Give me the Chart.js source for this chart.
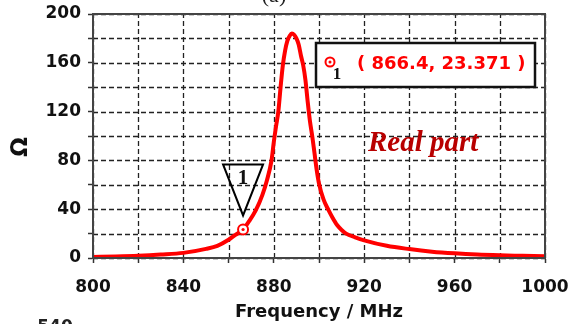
<!DOCTYPE html>
<html>
<head>
<meta charset="utf-8">
<script src="https://cdn.jsdelivr.net/npm/chart.js@4.4.1/dist/chart.umd.min.js"></script>
<style>
  html, body { margin: 0; padding: 0; background: #fff; }
  #wrap { width: 573px; height: 324px; position: relative; }
</style>
</head>
<body>
<div id="wrap"><canvas id="chart"></canvas></div>
<script>
// frequency (MHz) and real part of the impedance (ohm)
const freqMHz = [800, 810, 820, 830, 840, 850, 855, 860, 863, 866.4, 869, 872, 875, 877, 879, 880, 881, 882, 883, 884,
  885, 886, 887, 888, 889, 890, 891, 892, 893, 894, 895, 896, 897, 898, 899, 900, 902, 904, 906, 908,
  910, 912, 916, 920, 930, 940, 950, 960, 970, 980, 990, 1000];
const realOhm = [0.8, 1.2, 1.8, 2.8, 4.2, 7.5, 10, 15, 19, 23.4, 30, 39, 52, 64, 80, 95, 108, 120, 140, 158,
  170, 178, 182, 184, 183, 180, 175, 166, 158, 146, 128, 112, 100, 86, 72, 61, 48, 40, 33, 27,
  23, 20, 17, 14.5, 10, 7.3, 5.2, 3.8, 2.8, 2.2, 1.8, 1.4];

// marker 1
const markerFreq = 866.4;
const markerValue = 23.371;
const markerLabel = "( 866.4, 23.371 )";

const xRange = [800, 1000];
const yRange = [0, 200];
const gridStep = 20;
const labelStep = 40;

const curve = freqMHz.map((f, i) => ({ x: f, y: realOhm[i] }));

// dashed grid drawn from the scales' own ticks
const dashedGrid = {
  id: "dashedGrid",
  beforeDatasetsDraw(chart) {
    const { ctx, chartArea: a, scales } = chart;
    ctx.save();
    ctx.strokeStyle = "#222";
    ctx.lineWidth = 1.3;
    ctx.setLineDash([5, 3]);
    scales.x.ticks.forEach((t) => {
      const x = Math.round(scales.x.getPixelForValue(t.value)) + 0.5;
      ctx.beginPath();
      ctx.moveTo(x, a.bottom);
      ctx.lineTo(x, a.top);
      ctx.stroke();
    });
    scales.y.ticks.forEach((t) => {
      const y = Math.round(scales.y.getPixelForValue(t.value)) + 0.5;
      ctx.beginPath();
      ctx.moveTo(a.left, y);
      ctx.lineTo(a.right, y);
      ctx.stroke();
    });
    ctx.restore();
  }
};

const decor = {
  id: "decor",
  afterDraw(chart) {
    const { ctx, chartArea: a, scales } = chart;
    ctx.save();
    // frame round the plot
    ctx.strokeStyle = "#444";
    ctx.lineWidth = 2;
    ctx.setLineDash([]);
    ctx.strokeRect(a.left, a.top, a.right - a.left, a.bottom - a.top);

    // marker on the curve
    const px = scales.x.getPixelForValue(markerFreq);
    const py = scales.y.getPixelForValue(markerValue);
    ctx.fillStyle = "#ff0000";
    ctx.beginPath();
    ctx.arc(px, py, 1.6, 0, Math.PI * 2);
    ctx.fill();

    // triangle flag above the marker
    ctx.strokeStyle = "#000";
    ctx.lineWidth = 2;
    ctx.beginPath();
    ctx.moveTo(px - 20, py - 65);
    ctx.lineTo(px + 20, py - 65);
    ctx.lineTo(px, py - 14);
    ctx.closePath();
    ctx.stroke();
    ctx.fillStyle = "#111";
    ctx.font = "bold 21px 'Liberation Serif', serif";
    ctx.textAlign = "center";
    ctx.textBaseline = "middle";
    ctx.fillText("1", px, py - 51);

    // readout box
    const bx = a.left + 223, by = a.top + 29, bw = 219, bh = 44;
    ctx.fillStyle = "#fff";
    ctx.fillRect(bx, by, bw, bh);
    ctx.strokeStyle = "#111";
    ctx.lineWidth = 2.5;
    ctx.strokeRect(bx, by, bw, bh);
    ctx.strokeStyle = "#ff0000";
    ctx.lineWidth = 2;
    ctx.beginPath();
    ctx.arc(bx + 14, by + 19, 4.5, 0, Math.PI * 2);
    ctx.stroke();
    ctx.fillStyle = "#ff0000";
    ctx.beginPath();
    ctx.arc(bx + 14, by + 19, 1.5, 0, Math.PI * 2);
    ctx.fill();
    ctx.fillStyle = "#111";
    ctx.font = "bold 17px 'Liberation Serif', serif";
    ctx.fillText("1", bx + 21, by + 32);
    ctx.fillStyle = "#ff0000";
    ctx.font = "bold 18px 'DejaVu Sans', sans-serif";
    ctx.textAlign = "left";
    ctx.fillText(markerLabel, bx + 41, by + 21);

    // series note
    ctx.fillStyle = "#b80000";
    ctx.font = "italic bold 29px 'Liberation Serif', serif";
    ctx.textBaseline = "alphabetic";
    ctx.fillText("Real part", 368, 151);

    // axis unit
    ctx.fillStyle = "#111";
    ctx.font = "bold 23px 'DejaVu Sans', sans-serif";
    ctx.translate(21, 147);
    ctx.rotate(-Math.PI / 2);
    ctx.textAlign = "center";
    ctx.textBaseline = "middle";
    ctx.fillText("Ω", 0, 0);
    ctx.setTransform(1, 0, 0, 1, 0, 0);

    // pieces of neighbouring panels cut by the crop
    ctx.fillStyle = "#222";
    ctx.font = "22px 'Liberation Serif', serif";
    ctx.textAlign = "center";
    ctx.textBaseline = "alphabetic";
    ctx.fillText("(a)", 274, 2);
    ctx.font = "bold 17px 'DejaVu Sans', sans-serif";
    ctx.fillText("540", 55, 332);
    ctx.restore();
  }
};

const tickFont = { family: "'DejaVu Sans', sans-serif", size: 17, weight: "bold" };

new Chart(document.getElementById("chart"), {
  type: "line",
  data: {
    datasets: [
      {
        data: curve,
        borderColor: "#ff0000",
        borderWidth: 4,
        pointRadius: 0,
        cubicInterpolationMode: "monotone",
        order: 2
      },
      {
        data: [{ x: markerFreq, y: markerValue }],
        showLine: false,
        pointRadius: 5,
        pointBorderWidth: 2,
        pointBorderColor: "#ff0000",
        pointBackgroundColor: "#fff",
        order: 1
      }
    ]
  },
  options: {
    responsive: true,
    maintainAspectRatio: false,
    animation: false,
    layout: { padding: { top: 14, right: 28, left: 0, bottom: 0 } },
    plugins: { legend: { display: false }, tooltip: { enabled: false } },
    scales: {
      x: {
        type: "linear",
        min: xRange[0],
        max: xRange[1],
        afterFit: (s) => { s.height = 66; s.paddingLeft = 0; s.paddingRight = 0; },
        ticks: {
          stepSize: gridStep,
          autoSkip: false,
          maxRotation: 0,
          padding: 14,
          color: "#111",
          font: tickFont,
          callback: (v) => (v % labelStep === 0 ? v : "")
        },
        grid: {
          drawOnChartArea: false,
          tickLength: 5,
          tickColor: "#333",
          tickWidth: 1.5
        },
        border: { color: "#333", width: 2 },
        title: {
          display: true,
          text: "Frequency / MHz",
          color: "#111",
          font: { family: "'DejaVu Sans', sans-serif", size: 18, weight: "bold" },
          padding: { top: 0, bottom: 1 }
        }
      },
      y: {
        min: yRange[0],
        max: yRange[1],
        afterFit: (s) => { s.width = 93; s.paddingTop = 0; s.paddingBottom = 0; },
        ticks: {
          stepSize: gridStep,
          padding: 7,
          color: "#111",
          font: tickFont,
          callback: (v) => (v % labelStep === 0 ? v : "")
        },
        grid: {
          drawOnChartArea: false,
          tickLength: 5,
          tickColor: "#333",
          tickWidth: 1.5
        },
        border: { color: "#333", width: 2 }
      }
    }
  },
  plugins: [dashedGrid, decor]
});
</script>
</body>
</html>
